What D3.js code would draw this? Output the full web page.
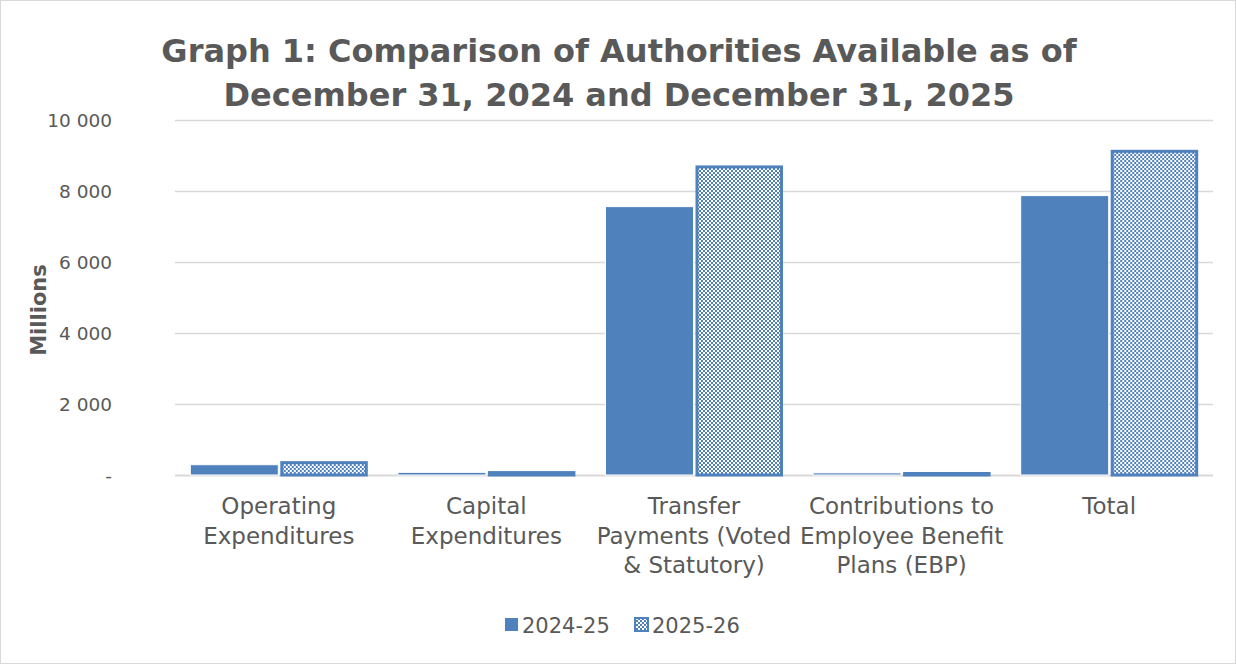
<!DOCTYPE html>
<html>
<head>
<meta charset="utf-8">
<script src="https://cdn.jsdelivr.net/npm/d3@7"></script>
<style>
  html, body { margin: 0; padding: 0; background: #fff; }
  svg { display: block; }
  text { font-family: "DejaVu Sans", "Lato", sans-serif; fill: #595959; }
</style>
</head>
<body>
<svg id="chart" width="1236" height="664"></svg>
<script>
const categories = [
  ["Operating", "Expenditures"],
  ["Capital", "Expenditures"],
  ["Transfer", "Payments (Voted", "& Statutory)"],
  ["Contributions to", "Employee Benefit", "Plans (EBP)"],
  ["Total"]
];
const seriesNames = ["2024-25", "2025-26"];
const values2024 = [290, 75, 7560, 60, 7870];
const values2025 = [390, 110, 8720, 85, 9160];
const yTicks = [0, 2000, 4000, 6000, 8000, 10000];
const yTickLabels = ["-", "2 000", "4 000", "6 000", "8 000", "10 000"];
const titleLines = ["Graph 1: Comparison of Authorities Available as of", "December 31, 2024 and December 31, 2025"];
const yTitle = "Millions";

const W = 1236, H = 664;
const plot = { left: 175, right: 1213, top: 120, bottom: 475 };
const blue = "#4f81bd";

const svg = d3.select("#chart");
const defs = svg.append("defs");
const pat = defs.append("pattern").attr("id", "checker")
  .attr("patternUnits", "userSpaceOnUse").attr("width", 4).attr("height", 4);
pat.append("rect").attr("width", 4).attr("height", 4).attr("fill", "#fff");
pat.append("rect").attr("x", 0).attr("y", 0).attr("width", 2).attr("height", 2).attr("fill", blue);
pat.append("rect").attr("x", 2).attr("y", 2).attr("width", 2).attr("height", 2).attr("fill", blue);

svg.append("rect").attr("x", 0.5).attr("y", 0.5).attr("width", W - 1).attr("height", H - 1)
  .attr("fill", "#fff").attr("stroke", "#d9d9d9");

const idx = d3.range(categories.length);
const x0 = d3.scaleBand().domain(idx).range([plot.left, plot.right])
  .paddingInner(0.1426).paddingOuter(0.0713);
const x1 = d3.scaleBand().domain([0, 1]).range([0, x0.bandwidth()]).padding(0);
const y = d3.scaleLinear().domain([0, 10000]).range([plot.bottom, plot.top]);

// gridlines
svg.append("g").selectAll("line").data(yTicks).join("line")
  .attr("x1", plot.left).attr("x2", plot.right)
  .attr("y1", d => Math.round(y(d)) + 0.5).attr("y2", d => Math.round(y(d)) + 0.5)
  .attr("stroke", "#d9d9d9").attr("stroke-width", d => d === 0 ? 2 : 1.3);

// y axis labels
const yAxis = d3.axisLeft(y).tickValues(yTicks).tickSize(0).tickPadding(0)
  .tickFormat((d, i) => yTickLabels[i]);
const yg = svg.append("g").attr("transform", `translate(${plot.left - 63},0)`).call(yAxis);
yg.select(".domain").remove();
yg.selectAll("text").attr("font-size", 18.5).attr("fill", "#595959")
  .style("font-family", "'DejaVu Sans', sans-serif").attr("dy", "0.35em");

// bars
const groups = svg.append("g").selectAll("g").data(idx).join("g")
  .attr("transform", i => `translate(${x0(i)},0)`);

groups.append("rect")
  .attr("x", x1(0) + 0.5).attr("width", x1.bandwidth() - 1)
  .attr("y", i => y(values2024[i])).attr("height", i => y(0) - y(values2024[i]))
  .attr("fill", blue).attr("stroke", "#fff").attr("stroke-width", 1);

groups.append("rect")
  .attr("x", x1(1) + 3).attr("width", x1.bandwidth() - 4.5)
  .attr("y", i => y(values2025[i]) + 1.5).attr("height", i => Math.max(0, y(0) - y(values2025[i]) - 1.5))
  .attr("fill", "url(#checker)").attr("stroke", blue).attr("stroke-width", 3);

// category labels
const catG = svg.append("g");
idx.forEach(i => {
  const cx = x0(i) + x0.bandwidth() / 2;
  const t = catG.append("text").attr("text-anchor", "middle").attr("font-size", 23);
  categories[i].forEach((ln, k) => {
    t.append("tspan").attr("x", cx).attr("y", 514 + k * 29.5).text(ln);
  });
});

// y title
svg.append("text").attr("transform", "translate(46,310) rotate(-90)")
  .attr("text-anchor", "middle").attr("font-size", 21).attr("font-weight", "bold").text(yTitle);

// title
const tt = svg.append("text").attr("text-anchor", "middle").attr("font-size", 32).attr("font-weight", "bold");
titleLines.forEach((ln, k) => {
  tt.append("tspan").attr("x", 619).attr("y", 62 + k * 44).text(ln);
});

// legend
const legend = svg.append("g");
const legX = [505, 635];
seriesNames.forEach((s, k) => {
  legend.append("rect").attr("x", legX[k]).attr("y", 618).attr("width", 13).attr("height", 13)
    .attr("fill", k === 0 ? blue : "url(#checker)")
    .attr("stroke", k === 0 ? "none" : blue).attr("stroke-width", k === 0 ? 0 : 2);
  legend.append("text").attr("x", legX[k] + 17).attr("y", 633).attr("font-size", 21).text(s);
});
</script>
</body>
</html>
